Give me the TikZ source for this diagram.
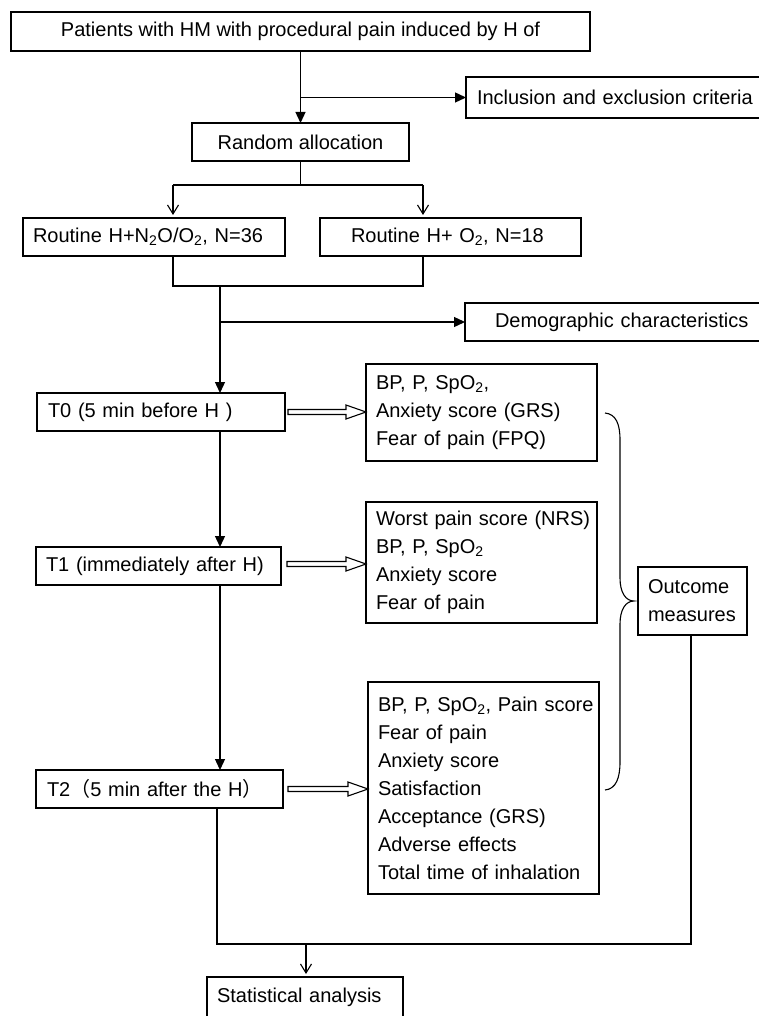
\documentclass[tikz,border=0pt]{standalone}
\usepackage{fontspec}
\setmainfont{Liberation Sans}
\newfontfamily\cjk{Noto Sans CJK SC}
\usetikzlibrary{arrows.meta,calc}
\newcommand\blkarrow[2]{%
  \draw[blk] ($(#1)+(0,-2.5)$) -- ($(#2)+(-20,-2.5)$) -- ($(#2)+(-20,-7)$) -- (#2)
    -- ($(#2)+(-20,7)$) -- ($(#2)+(-20,2.5)$) -- ($(#1)+(0,2.5)$) -- cycle;}
\begin{document}
\begin{tikzpicture}[x=1pt,y=-1pt,
  every node/.style={font=\fontsize{20}{28}\selectfont},
  box/.style={draw, line width=1.5pt, inner ysep=0pt, outer sep=0pt},
  lbox/.style={box, align=left},
  ln/.style={line width=1.3pt},
  arr/.style={ln, -{Triangle[length=11pt,width=10pt]}},
  oarr/.style={ln, shorten >=3pt, -{Straight Barb[length=9pt,width=11pt,line width=1.1pt]}},
  blk/.style={draw, line width=1.1pt, fill=white},
  brace/.style={line width=1.1pt},
]
\useasboundingbox (0,0) rectangle (759,1016);
\fill[white] (0,0) rectangle (759,1016);

% nodes
\node[box, minimum width=579pt, minimum height=39pt] (top) at (300.5,31.5)
  {Patients with HM with procedural pain induced by H of};
\node[lbox, anchor=west, text width=303pt, inner xsep=11pt, minimum height=41pt] (inc) at (466,97.5)
  {Inclusion and exclusion criteria};
\node[box, minimum width=217pt, minimum height=38pt] (rand) at (300.5,142) {Random allocation};
\node[lbox, text width=242pt, inner xsep=10pt, minimum height=38pt] (g1) at (154,237)
  {\mbox{Routine H+N\textsubscript{2}O/O\textsubscript{2}, N=36}};
\node[lbox, text width=199pt, inner xsep=31pt, minimum height=38pt] (g2) at (450.5,237)
  {\mbox{Routine H+ O\textsubscript{2}, N=18}};
\node[lbox, anchor=west, text width=275pt, inner xsep=30pt, minimum height=38pt] (demo) at (465,322)
  {Demographic characteristics};
\node[lbox, text width=226pt, inner xsep=11pt, minimum height=38pt] (t0) at (161,412)
  {T0 (5 min before H )};
\node[lbox, text width=211pt, inner xsep=10pt, minimum height=97pt] (m0) at (481.5,412.5)
  {\mbox{BP, P, SpO\textsubscript{2},}\\\mbox{Anxiety score (GRS)}\\\mbox{Fear of pain (FPQ)}};
\node[lbox, text width=225pt, inner xsep=10pt, minimum height=38pt] (t1) at (158.5,566)
  {T1 (immediately after H)};
\node[lbox, text width=211pt, inner xsep=10pt, minimum height=121pt] (m1) at (481.5,562.5)
  {\mbox{Worst pain score (NRS)}\\\mbox{BP, P, SpO\textsubscript{2}}\\\mbox{Anxiety score}\\\mbox{Fear of pain}};
\node[lbox, text width=225pt, inner xsep=11pt, minimum height=38pt] (t2) at (159.5,789)
  {\mbox{T2{\cjk （}5 min after the H{\cjk ）}}};
\node[lbox, text width=211pt, inner xsep=10pt, minimum height=212pt] (m2) at (483.5,788)
  {\mbox{BP, P, SpO\textsubscript{2}, Pain score}\\\mbox{Fear of pain}\\\mbox{Anxiety score}\\\mbox{Satisfaction}\\\mbox{Acceptance (GRS)}\\\mbox{Adverse effects}\\\mbox{Total time of inhalation}};
\node[lbox, text width=89pt, inner xsep=10pt, minimum height=68pt] (outc) at (692.5,601)
  {\mbox{Outcome}\\\mbox{measures}};
\node[lbox, text width=176pt, inner xsep=10pt, minimum height=40pt] (stat) at (305,997)
  {Statistical analysis};

% connectors
\coordinate (b1) at (300.5,97.5);
\draw[arr] (top.south) -- (rand.north);
\draw[arr] (b1) -- (inc.west);

\coordinate (sp) at (300.5,185);
\coordinate (sl) at (173,185);
\coordinate (sr) at (423,185);
\draw[ln] (rand.south) -- (sp);
\draw[ln] (sl) -- (sr);
\draw[oarr] (sl) -- (sl |- g1.north);
\draw[oarr] (sr) -- (sr |- g2.north);

\coordinate (jl) at (173,286);
\coordinate (jr) at (423,286);
\draw[ln] (jl |- g1.south) -- (jl) -- (jr) -- (jr |- g2.south);
\coordinate (s0) at (220,286);
\draw[arr] (s0) -- (s0 |- t0.north);
\coordinate (b2) at (220,322);
\draw[arr] (b2) -- (demo.west);

\draw[arr] (t0.south -| s0) -- (t1.north -| s0);
\draw[arr] (t1.south -| s0) -- (t2.north -| s0);

\coordinate (e1) at (217,944);
\coordinate (e2) at (691,944);
\draw[ln] (t2.south -| e1) -- (e1) -- (e2) -- (outc.south -| e2);
\coordinate (e3) at (306,944);
\draw[oarr] (e3) -- (e3 |- stat.north);

% block arrows
\coordinate (a0) at ($(t0.east)+(3,0)$);
\coordinate (a0e) at (a0 -| m0.west);
\blkarrow{a0}{a0e}
\coordinate (a1) at ($(t1.east)+(6,-2)$);
\coordinate (a1e) at (a1 -| m1.west);
\blkarrow{a1}{a1e}
\coordinate (a2) at ($(t2.east)+(5,0)$);
\coordinate (a2e) at (a2 -| m2.west);
\blkarrow{a2}{a2e}

% brace
\coordinate (bt) at (605,413);
\coordinate (bb) at (605,790);
\coordinate (btip) at (634,601);
\draw[brace] (bt) .. controls (616,414) and (620,424) .. (620,440) -- (620,578)
  .. controls (620,593) and (626,601) .. (btip)
  .. controls (626,601) and (620,609) .. (620,624) -- (620,762)
  .. controls (620,778) and (616,789) .. (bb);
\end{tikzpicture}
\end{document}
